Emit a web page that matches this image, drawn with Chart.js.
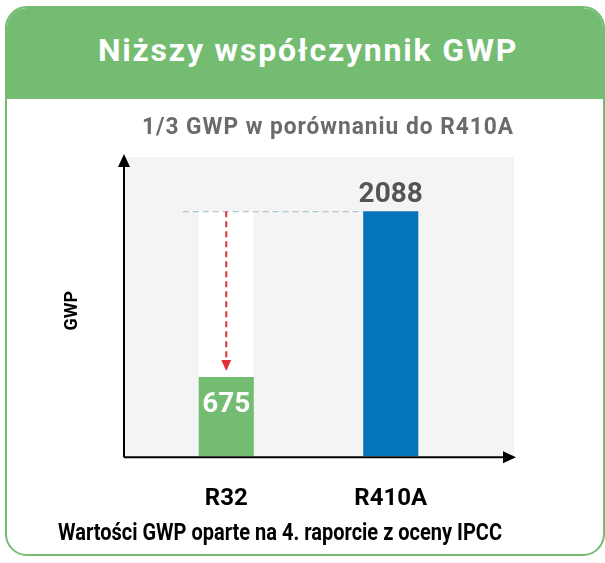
<!DOCTYPE html>
<html>
<head>
<meta charset="utf-8">
<script src="https://cdn.jsdelivr.net/npm/chart.js@4"></script>
<style>
  html, body { margin: 0; padding: 0; background: #fff; }
  body { width: 605px; height: 563px; position: relative; overflow: hidden; font-family: Roboto, sans-serif; }
  .card {
    position: absolute; left: 5px; top: 6px; width: 596px; height: 546px;
    border: 2px solid #74bc72; border-radius: 22px; overflow: hidden;
  }
  .head {
    height: 91px; background: #74bc72; color: #fff;
    font-weight: bold; font-size: 32px; letter-spacing: 1.8px; text-align: center; line-height: 84px;
    padding-left: 6px;
  }
  #wrap { position: absolute; left: 0; top: 0; width: 605px; height: 563px; }
</style>
</head>
<body>
<div class="card"><div class="head">Niższy współczynnik GWP</div></div>
<div id="wrap"><canvas id="gwpCanvas"></canvas></div>
<script>
let categories = ["R32", "R410A"];
let gwpValues = [675, 2088];
let barColors = ["#74bc72", "#0575bb"];
let referenceValue = 2088; // R410A level, shown as white ghost bar over R32
let subtitleText = "1/3 GWP w porównaniu do R410A";
let footerText = "Wartości GWP oparte na 4. raporcie z oceny IPCC";
let yTitle = "GWP";

let ghostValues = [referenceValue, null];

// gray backdrop, arrowed axes, dashed guides, texts and value labels
let decorPlugin = {
    id: "decor",
    beforeDatasetsDraw(chart) {
        let c = chart.ctx, a = chart.chartArea;
        c.save();
        c.fillStyle = "#f4f4f4";
        c.fillRect(a.left - 20, a.top, a.right - a.left + 61, a.bottom - a.top);
        c.restore();
    },
    afterDatasetsDraw(chart) {
        let c = chart.ctx, a = chart.chartArea;
        let y = chart.scales.y;
        let bars = chart.getDatasetMeta(1).data;
        let refY = y.getPixelForValue(referenceValue);
        let lowY = y.getPixelForValue(gwpValues[0]);
        c.save();
        // horizontal dashed reference
        c.strokeStyle = "#9fb9c9";
        c.lineWidth = 1;
        c.setLineDash([6, 4]);
        c.beginPath();
        c.moveTo(bars[0].x - bars[0].width / 2 - 16, refY + 0.5);
        c.lineTo(bars[1].x - bars[1].width / 2, refY + 0.5);
        c.stroke();
        // red dashed arrow down
        c.strokeStyle = "#e0313a";
        c.lineWidth = 2;
        c.setLineDash([6, 4]);
        c.beginPath();
        c.moveTo(bars[0].x, refY);
        c.lineTo(bars[0].x, lowY - 16);
        c.stroke();
        c.setLineDash([]);
        c.fillStyle = "#e0313a";
        c.beginPath();
        c.moveTo(bars[0].x - 5, lowY - 17);
        c.lineTo(bars[0].x + 5, lowY - 17);
        c.lineTo(bars[0].x, lowY - 6);
        c.closePath();
        c.fill();
        // axes with arrows
        c.strokeStyle = "#000";
        c.fillStyle = "#000";
        c.lineWidth = 2;
        let x0 = a.left - 20;
        c.beginPath();
        c.moveTo(x0, a.bottom + 1);
        c.lineTo(a.right + 36, a.bottom + 1);
        c.moveTo(x0, a.bottom + 1);
        c.lineTo(x0, a.top + 2);
        c.stroke();
        c.beginPath();
        c.moveTo(x0 - 6, a.top + 10);
        c.lineTo(x0 + 6, a.top + 10);
        c.lineTo(x0, a.top - 3);
        c.closePath();
        c.fill();
        c.beginPath();
        c.moveTo(a.right + 30, a.bottom - 5);
        c.lineTo(a.right + 30, a.bottom + 7);
        c.lineTo(a.right + 43, a.bottom + 1);
        c.closePath();
        c.fill();
        // value labels
        c.font = "bold 28px Roboto";
        c.textAlign = "center";
        c.textBaseline = "alphabetic";
        c.fillStyle = "#555555";
        c.fillText(String(gwpValues[1]), bars[1].x, bars[1].y - 9);
        c.fillStyle = "#ffffff";
        c.fillText(String(gwpValues[0]), bars[0].x, bars[0].y + 35);
        // subtitle above the plot
        c.fillStyle = "#6b6b6b";
        c.font = "bold 23px Roboto";
        c.letterSpacing = "1px";
        c.fillText(subtitleText, 328, 134, 372);
        c.letterSpacing = "0px";
        // footer note
        c.fillStyle = "#000";
        c.textAlign = "left";
        c.font = "bold 23px Roboto";
        c.fillText(footerText, 58, 540, 444);
        // y axis title
        c.textAlign = "center";
        c.font = "bold 18px Roboto";
        c.translate(77, (a.top + a.bottom) / 2 + 4);
        c.rotate(-Math.PI / 2);
        c.fillText(yTitle, 0, 0);
        c.restore();
    }
};

let data = {
    labels: categories,
    datasets: [
        {
            data: ghostValues,
            backgroundColor: "#ffffff",
            grouped: false,
            order: 2,
            barPercentage: 0.335,
            categoryPercentage: 1
        },
        {
            data: gwpValues,
            backgroundColor: barColors,
            grouped: false,
            order: 1,
            barPercentage: 0.335,
            categoryPercentage: 1
        }
    ]
};

let options = {
    responsive: false,
    animation: false,
    layout: { padding: { left: 144, right: 132, top: 157, bottom: 22 } },
    plugins: {
        legend: { display: false },
        tooltip: { enabled: false }
    },
    scales: {
        x: {
            grid: { display: false, drawTicks: false },
            border: { display: false },
            ticks: {
                color: "#000",
                padding: 28,
                font: { family: "Roboto", size: 24, weight: "bold" }
            }
        },
        y: {
            display: false,
            min: 0,
            max: 2550
        }
    }
};

let canvas = document.getElementById("gwpCanvas");
canvas.width = 605;
canvas.height = 563;

var gwpChart = new Chart(canvas, {
    type: "bar",
    data: data,
    options: options,
    plugins: [decorPlugin]
});
</script>
</body>
</html>
